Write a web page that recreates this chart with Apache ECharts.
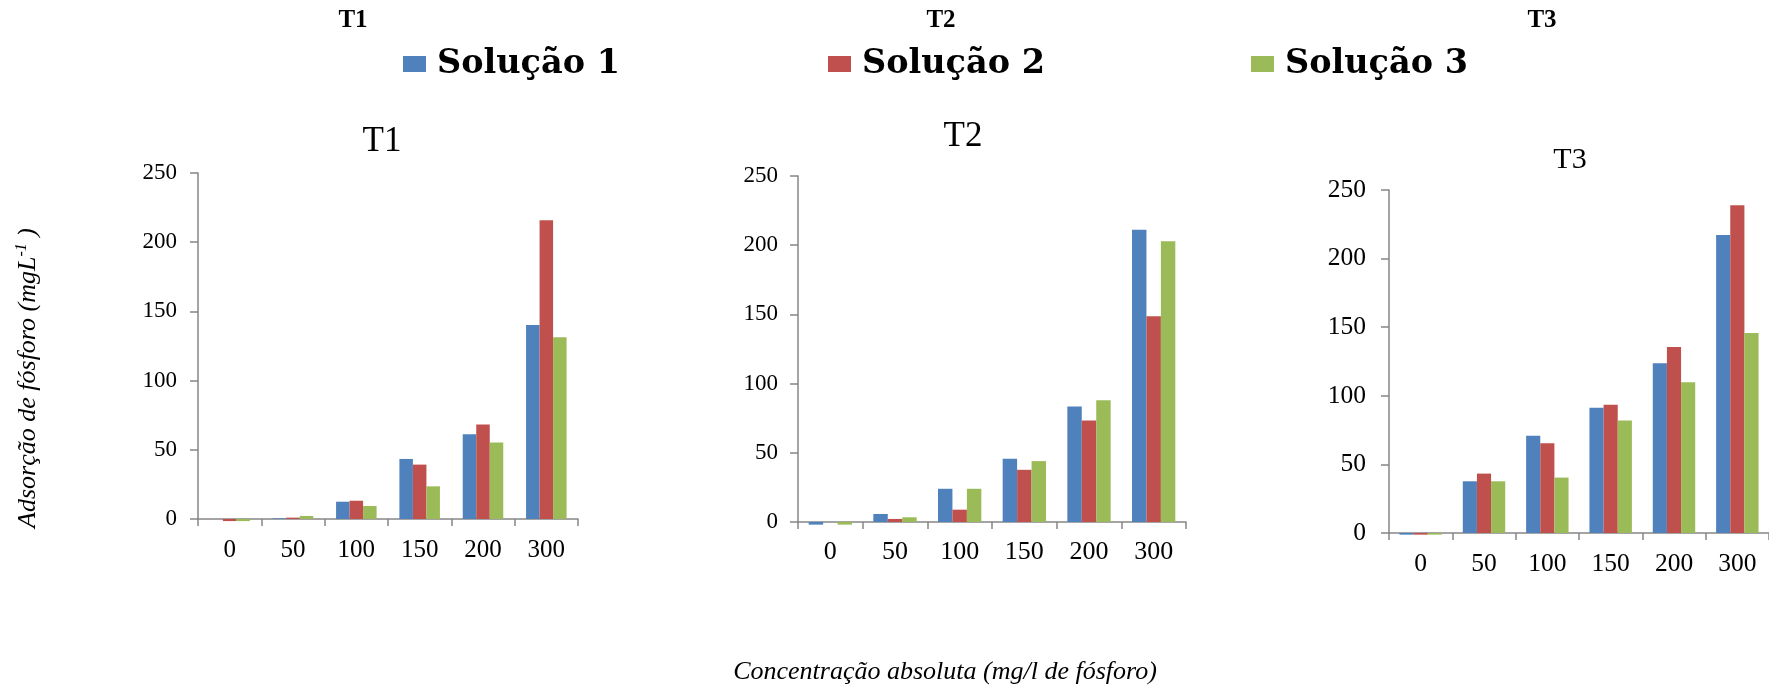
<!DOCTYPE html>
<html>
<head>
<meta charset="utf-8">
<script src="https://cdn.jsdelivr.net/npm/echarts@6/dist/echarts.min.js"></script>
<style>
html,body{margin:0;padding:0;background:#fff;}
#c{width:1769px;height:695px;}
</style>
</head>
<body>
<div id="c"></div>
<script>
// ---- data ----
const categories = ['0', '50', '100', '150', '200', '300'];
const seriesNames = ['Solução 1', 'Solução 2', 'Solução 3'];
const colors = ['#4F81BD', '#C0504D', '#9BBB59'];
const panelTitles = ['T1', 'T2', 'T3'];
const yTicks = [0, 50, 100, 150, 200, 250];

const t1_s1 = [0, 0.5, 12.5, 43.4, 61.2, 140.2];
const t1_s2 = [-1.5, 1, 13.2, 39.3, 68.2, 215.8];
const t1_s3 = [-1.5, 2.2, 9.4, 23.6, 55.2, 131.3];

const t2_s1 = [-1.9, 5.8, 24.0, 45.7, 83.4, 211.1];
const t2_s2 = [0, 2.2, 8.9, 37.7, 73.3, 148.6];
const t2_s3 = [-1.9, 3.4, 24.0, 44.0, 88.0, 202.9];

const t3_s1 = [-1.2, 37.7, 70.8, 91.2, 123.8, 217.2];
const t3_s2 = [-1.2, 43.3, 65.4, 93.4, 135.5, 238.8];
const t3_s3 = [-1.2, 37.7, 40.4, 82.0, 109.9, 145.7];

const yTitleMain = 'Adsorção de fósforo (mgL';
const yTitleSup = '-1';
const yTitleEnd = ' )';
const xTitle = 'Concentração absoluta (mg/l de fósforo)';

// ---- layout ----
const panels = [
  {data: [t1_s1, t1_s2, t1_s3], grid: {left: 198, top: 173, width: 380, height: 346},
   yFont: 23, xFont: 25, yMargin: 21, xMargin: 19, gap: '36%',
   title: {x: 382, y: 142, size: 35}},
  {data: [t2_s1, t2_s2, t2_s3], grid: {left: 798, top: 176, width: 388, height: 346},
   yFont: 23, xFont: 26, yMargin: 20, xMargin: 17, gap: '33%',
   title: {x: 963, y: 137, size: 35}},
  {data: [t3_s1, t3_s2, t3_s3], grid: {left: 1389, top: 190, width: 388, height: 343},
   yFont: 25.5, xFont: 25.5, yMargin: 23, xMargin: 18, gap: '33%',
   title: {x: 1570, y: 160, size: 30}}
];
const topTitles = [{x: 353, y: 21}, {x: 941, y: 21}, {x: 1542, y: 21}];
const legendLefts = [403, 828, 1251];

const axisColor = '#868686';
const serif = '"Liberation Serif", "Times New Roman", serif';

const grids = [], xAxes = [], yAxes = [], series = [], graphics = [], legends = [];

panels.forEach((p, i) => {
  grids.push(Object.assign({containLabel: false}, p.grid));
  xAxes.push({
    type: 'category', gridIndex: i, data: categories,
    axisLine: {lineStyle: {color: axisColor, width: 1.5}},
    axisTick: {show: true, length: 7, lineStyle: {color: axisColor, width: 1.5}},
    axisLabel: {color: '#000', fontFamily: serif, fontSize: p.xFont, margin: p.xMargin},
    splitLine: {show: false}
  });
  yAxes.push({
    type: 'value', gridIndex: i, min: 0, max: 250, interval: 50,
    axisLine: {show: true, lineStyle: {color: axisColor, width: 1.5}},
    axisTick: {show: true, length: 8, lineStyle: {color: axisColor, width: 1.5}},
    axisLabel: {color: '#000', fontFamily: serif, fontSize: p.yFont, margin: p.yMargin},
    splitLine: {show: false}
  });
  p.data.forEach((d, k) => {
    series.push({
      type: 'bar', name: seriesNames[k], xAxisIndex: i, yAxisIndex: i,
      data: d, barGap: '0%', barCategoryGap: p.gap, clip: false,
      itemStyle: {color: colors[k]}, animation: false
    });
  });
  graphics.push({
    type: 'text', x: p.title.x, y: p.title.y,
    style: {text: panelTitles[i], align: 'center', verticalAlign: 'middle',
            textAlign: 'center', textVerticalAlign: 'middle',
            font: p.title.size + 'px ' + serif, fill: '#000'}
  });
  graphics.push({
    type: 'text', x: topTitles[i].x, y: topTitles[i].y,
    style: {text: panelTitles[i], align: 'center', verticalAlign: 'middle',
            textAlign: 'center', textVerticalAlign: 'middle',
            font: 'bold 25px ' + serif, fill: '#000'}
  });
});

seriesNames.forEach((n, k) => {
  legends.push({
    data: [n], left: legendLefts[k], top: 47, padding: 0,
    icon: 'rect', itemWidth: 23, itemHeight: 16,
    selectedMode: false,
    textStyle: {fontFamily: '"DejaVu Serif", serif', fontWeight: 'bold', fontSize: 33.5,
                color: '#000', padding: [0, 0, 0, 6]}
  });
});

graphics.push({
  type: 'text', x: 28, y: 378, rotation: Math.PI / 2,
  style: {
    text: '{a|' + yTitleMain + '}{s|' + yTitleSup + '}{a|' + yTitleEnd + '}',
    align: 'center', verticalAlign: 'middle',
    textAlign: 'center', textVerticalAlign: 'middle',
    fill: '#000',
    rich: {
      a: {fontFamily: serif, fontStyle: 'italic', fontSize: 26, lineHeight: 28, fill: '#000', color: '#000'},
      s: {fontFamily: serif, fontStyle: 'italic', fontSize: 16, lineHeight: 28, verticalAlign: 'top', fill: '#000', color: '#000'}
    }
  }
});
graphics.push({
  type: 'text', x: 945, y: 672,
  style: {text: xTitle, align: 'center', verticalAlign: 'middle',
          textAlign: 'center', textVerticalAlign: 'middle',
          font: 'italic 26px ' + serif, fill: '#000'}
});

const chart = echarts.init(document.getElementById('c'), null, {renderer: 'canvas'});
chart.setOption({
  animation: false,
  backgroundColor: '#fff',
  legend: legends,
  grid: grids,
  xAxis: xAxes,
  yAxis: yAxes,
  series: series,
  graphic: graphics
});
</script>
</body>
</html>
